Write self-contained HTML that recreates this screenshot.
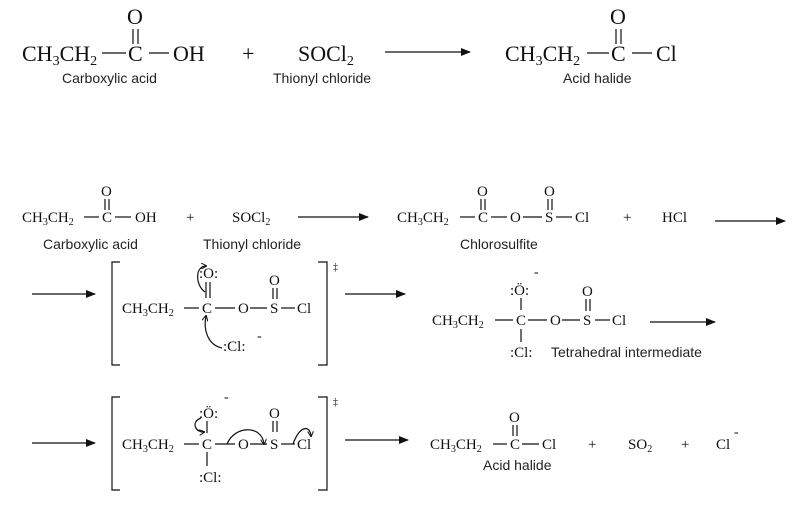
<!DOCTYPE html>
<html><head><meta charset="utf-8"><style>
html,body{margin:0;padding:0;background:#fff;}
svg{display:block}
.c{font-family:"Liberation Serif",serif;fill:#111}
.l{font-family:"Liberation Sans",sans-serif;fill:#222}
line,path,polyline{stroke:#111;fill:none;stroke-width:1.2}
</style></head><body>
<svg width="800" height="518" viewBox="0 0 800 518" xmlns="http://www.w3.org/2000/svg">
<defs><marker id="ah" markerWidth="10" markerHeight="8" refX="9" refY="4" orient="auto" markerUnits="userSpaceOnUse"><path d="M0,0 L10,4 L0,8 z" style="fill:#111;stroke:none"/></marker>
<marker id="sh" markerWidth="6" markerHeight="6" refX="5" refY="3" orient="auto" markerUnits="userSpaceOnUse"><path d="M0,0 L6,3 L0,6" style="fill:none;stroke:#111;stroke-width:1"/></marker></defs>

<!-- Row 1 -->
<g class="c" font-size="22">
<text x="22" y="61">CH<tspan font-size="14" dy="4">3</tspan><tspan dy="-4">CH</tspan><tspan font-size="14" dy="4">2</tspan></text>
<text x="128" y="61">C</text><text x="127" y="24">O</text>
<text x="173" y="61">OH</text>
<text x="242" y="61">+</text>
<text x="298" y="61">SOCl<tspan font-size="14" dy="4">2</tspan></text>
<text x="505" y="61">CH<tspan font-size="14" dy="4">3</tspan><tspan dy="-4">CH</tspan><tspan font-size="14" dy="4">2</tspan></text>
<text x="611" y="61">C</text><text x="610" y="24">O</text>
<text x="656" y="61">Cl</text>
</g>
<line x1="102" y1="53" x2="126" y2="53"/><line x1="149" y1="53" x2="169" y2="53"/>
<line x1="133" y1="29" x2="133" y2="44"/><line x1="138" y1="29" x2="138" y2="44"/>
<line x1="587" y1="53" x2="609" y2="53"/><line x1="632" y1="53" x2="652" y2="53"/>
<line x1="616" y1="29" x2="616" y2="44"/><line x1="621" y1="29" x2="621" y2="44"/>
<line x1="385" y1="52" x2="470" y2="52" marker-end="url(#ah)"/>
<g class="l" font-size="14">
<text x="62" y="83">Carboxylic acid</text>
<text x="273" y="83">Thionyl chloride</text>
<text x="563" y="83">Acid halide</text>
</g>

<!-- Row 2 -->
<g class="c" font-size="15">
<text x="22" y="222">CH<tspan font-size="10" dy="3">3</tspan><tspan dy="-3">CH</tspan><tspan font-size="10" dy="3">2</tspan></text>
<text x="102" y="222">C</text><text x="101" y="196">O</text>
<text x="135" y="222">OH</text>
<text x="186" y="222">+</text>
<text x="232" y="222">SOCl<tspan font-size="10" dy="3">2</tspan></text>
<text x="397" y="222">CH<tspan font-size="10" dy="3">3</tspan><tspan dy="-3">CH</tspan><tspan font-size="10" dy="3">2</tspan></text>
<text x="478" y="222">C</text><text x="477" y="196">O</text>
<text x="510" y="222">O</text>
<text x="545" y="222">S</text><text x="544" y="196">O</text>
<text x="575" y="222">Cl</text>
<text x="623" y="222">+</text>
<text x="662" y="222">HCl</text>
</g>
<line x1="84" y1="217" x2="99" y2="217"/><line x1="115" y1="217" x2="131" y2="217"/>
<line x1="105" y1="199" x2="105" y2="210"/><line x1="109" y1="199" x2="109" y2="210"/>
<line x1="460" y1="217" x2="475" y2="217"/><line x1="491" y1="217" x2="507" y2="217"/><line x1="523" y1="217" x2="542" y2="217"/><line x1="556" y1="217" x2="572" y2="217"/>
<line x1="481" y1="199" x2="481" y2="210"/><line x1="485" y1="199" x2="485" y2="210"/>
<line x1="548" y1="199" x2="548" y2="210"/><line x1="552" y1="199" x2="552" y2="210"/>
<line x1="298" y1="217" x2="368" y2="217" marker-end="url(#ah)"/>
<line x1="715" y1="221" x2="785" y2="221" marker-end="url(#ah)"/>
<g class="l" font-size="14">
<text x="43" y="249">Carboxylic acid</text>
<text x="203" y="249">Thionyl chloride</text>
<text x="460" y="249">Chlorosulfite</text>
</g>

<!-- Row 3 -->
<line x1="32" y1="294" x2="95" y2="294" marker-end="url(#ah)"/>
<polyline points="120,262 112,262 112,365 120,365"/>
<polyline points="318,262 327,262 327,365 318,365"/>
<text class="c" x="333" y="270" font-size="10">‡</text>
<g class="c" font-size="15">
<text x="122" y="313">CH<tspan font-size="10" dy="3">3</tspan><tspan dy="-3">CH</tspan><tspan font-size="10" dy="3">2</tspan></text>
<text x="202" y="313">C</text><text x="199" y="278">:O:</text>
<text x="238" y="313">O</text>
<text x="270" y="313">S</text><text x="269" y="285">O</text>
<text x="297" y="313">Cl</text>
<text x="223" y="351">:Cl:</text>
<text x="257" y="340" font-size="14">-</text>
</g>
<line x1="184" y1="308" x2="199" y2="308"/><line x1="215" y1="308" x2="235" y2="308"/><line x1="250" y1="308" x2="267" y2="308"/><line x1="281" y1="308" x2="295" y2="308"/>
<line x1="206" y1="282" x2="206" y2="298"/><line x1="210" y1="282" x2="210" y2="298"/>
<line x1="273" y1="288" x2="273" y2="299"/><line x1="277" y1="288" x2="277" y2="299"/>
<path d="M205,292 C195,285 195,266 206,266" marker-end="url(#sh)"/>
<path d="M222,348 C208,345 203,330 206,316" marker-end="url(#sh)"/>
<line x1="345" y1="294" x2="405" y2="294" marker-end="url(#ah)"/>
<g class="c" font-size="15">
<text x="432" y="325">CH<tspan font-size="10" dy="3">3</tspan><tspan dy="-3">CH</tspan><tspan font-size="10" dy="3">2</tspan></text>
<text x="516" y="325">C</text><text x="510" y="295">:Ö:</text>
<text x="550" y="325">O</text>
<text x="583" y="325">S</text><text x="582" y="296">O</text>
<text x="612" y="325">Cl</text>
<text x="510" y="357">:Cl:</text>
<text x="534" y="276" font-size="14">-</text>
</g>
<line x1="495" y1="320" x2="513" y2="320"/><line x1="528" y1="320" x2="547" y2="320"/><line x1="562" y1="320" x2="580" y2="320"/><line x1="595" y1="320" x2="610" y2="320"/>
<line x1="521" y1="298" x2="521" y2="310"/><line x1="521" y1="329" x2="521" y2="342"/>
<line x1="586" y1="299" x2="586" y2="311"/><line x1="590" y1="299" x2="590" y2="311"/>
<text class="l" x="551" y="357" font-size="14">Tetrahedral intermediate</text>
<line x1="650" y1="322" x2="715" y2="322" marker-end="url(#ah)"/>

<!-- Row 4 -->
<line x1="32" y1="443" x2="95" y2="443" marker-end="url(#ah)"/>
<polyline points="120,397 112,397 112,490 120,490"/>
<polyline points="318,397 327,397 327,490 318,490"/>
<text class="c" x="333" y="405" font-size="10">‡</text>
<g class="c" font-size="15">
<text x="122" y="449">CH<tspan font-size="10" dy="3">3</tspan><tspan dy="-3">CH</tspan><tspan font-size="10" dy="3">2</tspan></text>
<text x="202" y="449">C</text><text x="199" y="418">:Ö:</text>
<text x="238" y="449">O</text>
<text x="270" y="449">S</text><text x="269" y="418">O</text>
<text x="297" y="449">Cl</text>
<text x="199" y="482">:Cl:</text>
<text x="224" y="401" font-size="14">-</text>
</g>
<line x1="184" y1="444" x2="199" y2="444"/><line x1="215" y1="444" x2="235" y2="444"/><line x1="250" y1="444" x2="267" y2="444"/><line x1="281" y1="444" x2="295" y2="444"/>
<line x1="207" y1="421" x2="207" y2="433"/><line x1="207" y1="452" x2="207" y2="466"/>
<line x1="273" y1="421" x2="273" y2="432"/><line x1="277" y1="421" x2="277" y2="432"/>
<path d="M201,418 C190,422 196,433 204,432" marker-end="url(#sh)"/>
<path d="M227,444 C235,425 262,425 264,444" marker-end="url(#sh)"/>
<path d="M293,444 C300,425 310,425 311,436" marker-end="url(#sh)"/>
<line x1="345" y1="440" x2="408" y2="440" marker-end="url(#ah)"/>
<g class="c" font-size="15">
<text x="430" y="449">CH<tspan font-size="10" dy="3">3</tspan><tspan dy="-3">CH</tspan><tspan font-size="10" dy="3">2</tspan></text>
<text x="510" y="449">C</text><text x="509" y="422">O</text>
<text x="542" y="449">Cl</text>
<text x="588" y="449">+</text>
<text x="628" y="449">SO<tspan font-size="10" dy="3">2</tspan></text>
<text x="681" y="449">+</text>
<text x="716" y="449">Cl</text>
<text x="734" y="436" font-size="14">-</text>
</g>
<line x1="493" y1="444" x2="507" y2="444"/><line x1="522" y1="444" x2="539" y2="444"/>
<line x1="513" y1="425" x2="513" y2="436"/><line x1="517" y1="425" x2="517" y2="436"/>
<text class="l" x="483" y="470" font-size="14">Acid halide</text>
</svg>
</body></html>
